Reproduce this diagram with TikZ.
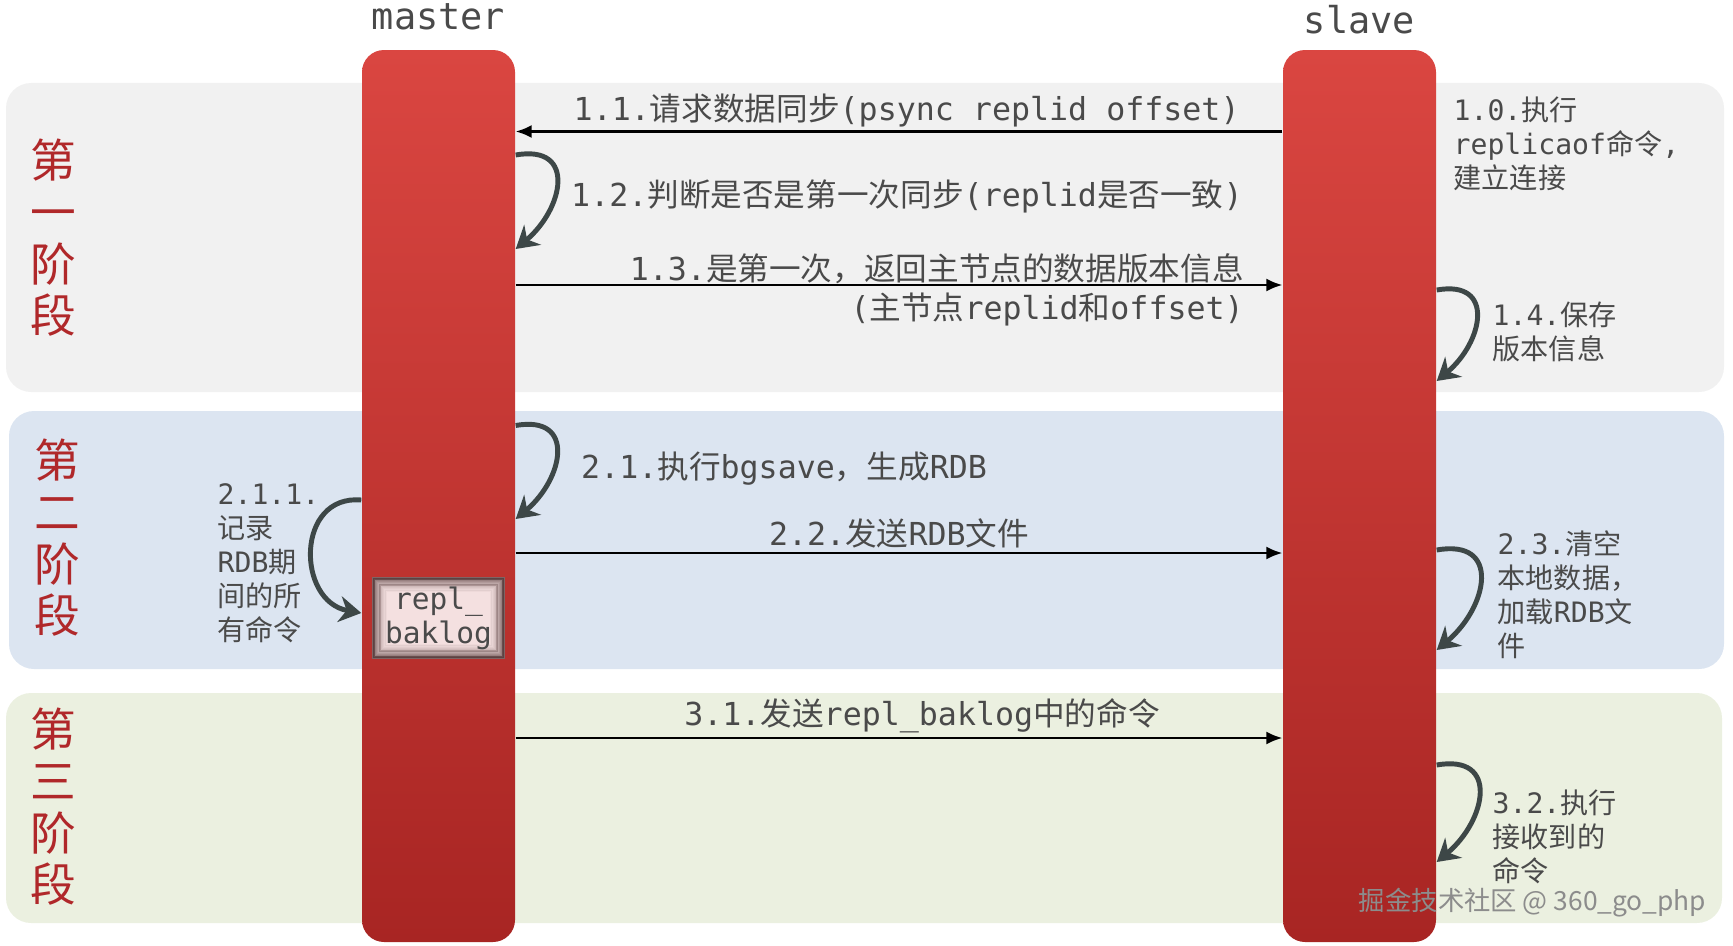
\documentclass[tikz,border=0pt]{standalone}
\usepackage{fontspec}
\setmainfont{DejaVu Sans Mono}
\newfontfamily\cjk{Noto Sans CJK SC}
\usetikzlibrary{arrows.meta,positioning}
\newcommand{\zh}[1]{{\cjk #1}}
\definecolor{bandA}{HTML}{F1F1F1}
\definecolor{bandB}{HTML}{DCE5F1}
\definecolor{bandC}{HTML}{EBF0E0}
\definecolor{barTop}{HTML}{DA4641}
\definecolor{barBot}{HTML}{A82523}
\definecolor{phaseRed}{HTML}{B0282A}
\definecolor{txtGray}{HTML}{4A4A4A}
\definecolor{loopGray}{HTML}{3D4747}
\definecolor{logPink}{HTML}{F4E0E0}
\definecolor{logEdge}{HTML}{4A2E2E}
\begin{document}
\begin{tikzpicture}[x=0.1mm, y=0.1mm, >={Latex[length=1.6mm,width=1.3mm]},
    bar/.style={rounded corners=2.2mm, top color=barTop, bottom color=barBot,
        minimum width=15.3mm, minimum height=89.2mm, inner sep=0pt},
    phasetext/.style={text=phaseRed, align=center, font=\cjk\fontsize{13}{14.7}\selectfont},
    headtext/.style={text=txtGray, font=\fontsize{10.5}{12}\selectfont},
    lbl/.style={text=txtGray, font=\fontsize{9}{11}\selectfont, inner sep=1pt},
    note/.style={text=txtGray, align=left, anchor=west, font=\fontsize{8}{9.7}\selectfont, inner sep=0pt},
    msg/.style={->, line width=0.6pt},
    selfloop/.style={-{Stealth[length=2.2mm,width=2.6mm]}, line width=1.4pt, draw=loopGray, looseness=1.7},
    replbox/.style={fill=logPink, minimum width=13.3mm, minimum height=8.2mm,
        inner sep=0pt, align=center, text=txtGray, font=\fontsize{8.4}{9.7}\selectfont,
        path picture={\foreach \d [evaluate=\d as \o using {0.75*(1-\d/16)^1.5}] in {0.8,2,...,14}
            \draw[logEdge, opacity=\o, line width=0.16mm]
                ([shift={(\d,\d)}]path picture bounding box.south west) rectangle
                ([shift={(-\d,-\d)}]path picture bounding box.north east);}}]
    \useasboundingbox (0,0) rectangle (1733,945);
    \fill[bandA, rounded corners=2.5mm] (6,553) rectangle (1724,862);
    \fill[bandB, rounded corners=2.5mm] (9,276) rectangle (1724,534);
    \fill[bandC, rounded corners=2.5mm] (6,22) rectangle (1722,252);
    \node[phasetext] (ph1) at (53,707) {第\\一\\阶\\段};
    \node[phasetext] (ph2) at (57,407) {第\\二\\阶\\段};
    \node[phasetext] (ph3) at (53,138) {第\\三\\阶\\段};

    \node[bar] (master) at (438.5,449) {};
    \node[bar] (slave) at (1359.5,449) {};
    \node[headtext, above=2mm of master, anchor=base] (mastertitle) {master};
    \node[headtext, above=1.6mm of slave, anchor=base] (slavetitle) {slave};
    \node[replbox] (repl) at (438.5,327) {repl\_\\baklog};

    \foreach \n/\y in {y11/813.5, y12a/790, y12b/696, y13/660, y14a/655, y14b/564,
        y21a/519.5, y21b/426, y211a/445, y211b/332, y22/392, y23a/395, y23b/295,
        y31/207, y32a/180, y32b/83}
        \coordinate (\n) at (0,\y);

    \draw[msg] (slave.west |- y11) -- node[lbl, above, pos=0.49] (l11)
        {1.1.\zh{请求数据同步}(psync replid offset)} (master.east |- y11);
    \draw[selfloop] (master.east |- y12a) to[out=10, in=40] (master.east |- y12b);
    \node[lbl, anchor=west] (l12) at (567,749) {1.2.\zh{判断是否是第一次同步}(replid\zh{是否一致})};
    \draw[msg] (master.east |- y13) -- (slave.west |- y13)
        node[lbl, pos=1, anchor=east, align=right, xshift=-3.4mm, yshift=-0.5mm] (l13)
        {1.3.\zh{是第一次，返回主节点的数据版本信息}\\(\zh{主节点}replid\zh{和}offset)};
    \node[note] (l10) at (1453,801) {1.0.\zh{执行}\\replicaof\zh{命令},\\\zh{建立连接}};
    \draw[selfloop] (slave.east |- y14a) to[out=10, in=40] (slave.east |- y14b);
    \node[note] (l14) at (1492,613.5) {1.4.\zh{保存}\\\zh{版本信息}};

    \draw[selfloop] (master.east |- y21a) to[out=10, in=40] (master.east |- y21b);
    \node[lbl, anchor=west] (l21) at (577,476) {2.1.\zh{执行}bgsave\zh{，生成}RDB};
    \draw[selfloop, looseness=1.5] (master.west |- y211a) to[out=175, in=170] (master.west |- y211b);
    \node[note] (l211) at (217,382) {2.1.1.\\\zh{记录}\\RDB\zh{期}\\\zh{间的所}\\\zh{有命令}};
    \draw[msg] (master.east |- y22) -- node[lbl, above, pos=0.5] (l22)
        {2.2.\zh{发送}RDB\zh{文件}} (slave.west |- y22);
    \draw[selfloop] (slave.east |- y23a) to[out=10, in=40] (slave.east |- y23b);
    \node[note] (l23) at (1497,350.5) {2.3.\zh{清空}\\\zh{本地数据，}\\\zh{加载}RDB\zh{文}\\\zh{件}};

    \draw[msg] (master.east |- y31) -- node[lbl, above, pos=0.53] (l31)
        {3.1.\zh{发送}repl\_baklog\zh{中的命令}} (slave.west |- y31);
    \draw[selfloop] (slave.east |- y32a) to[out=10, in=40] (slave.east |- y32b);
    \node[note] (l32) at (1492,108) {3.2.\zh{执行}\\\zh{接收到的}\\\zh{命令}};

    \node[anchor=east, text=black!45, font=\cjk\fontsize{7.5}{9}\selectfont, inner sep=0pt] (mark)
        at (1707,42) {掘金技术社区 @ 360\_go\_php};
\end{tikzpicture}
\end{document}
